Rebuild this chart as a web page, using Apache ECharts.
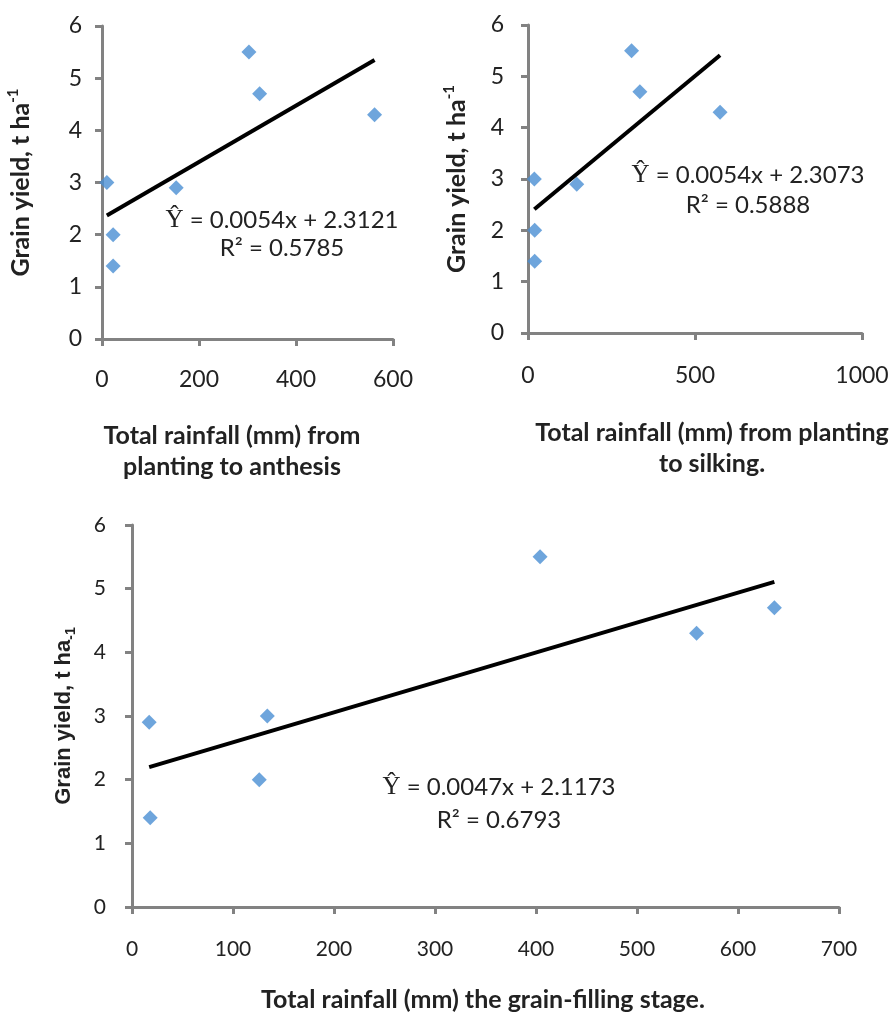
<!DOCTYPE html>
<html>
<head>
<meta charset="utf-8">
<title>Grain yield vs rainfall</title>
<script src="https://cdn.jsdelivr.net/npm/echarts@6/dist/echarts.min.js"></script>
<style>
  html, body { margin: 0; padding: 0; background: #ffffff; }
  #chart { width: 896px; height: 1013px; }
</style>
</head>
<body>
<div id="chart"></div>
<script>
// Rainfall (mm) and grain yield (t/ha) for each growth-stage window
const anthesisRain   = [10, 23, 23, 153, 303, 325, 562];
const anthesisYield  = [3.0, 2.0, 1.4, 2.9, 5.5, 4.7, 4.3];

const silkingRain    = [19, 20, 20, 146, 310, 335, 575];
const silkingYield   = [3.0, 2.0, 1.4, 2.9, 5.5, 4.7, 4.3];

const fillingRain    = [17, 18, 126, 134, 404, 559, 636];
const fillingYield   = [2.9, 1.4, 2.0, 3.0, 5.5, 4.3, 4.7];

// Linear fits: slope, intercept, R²
const fitSlope     = [0.0054, 0.0054, 0.0047];
const fitIntercept = [2.3121, 2.3073, 2.1173];
const fitR2        = ['0.5785', '0.5888', '0.6793'];

// Axis ranges
const xMax      = [600, 1000, 700];
const xInterval = [200, 500, 100];
const yMax = 6;

const xTitles = [
  'Total rainfall (mm) from\nplanting to anthesis',
  'Total rainfall (mm) from planting\nto silking.',
  'Total rainfall (mm) the grain-filling stage.'
];

const AXIS_GREY = '#828282';
const TEXT = '#222222';
const BLUE = '#4a8fd3';
const SANS = 'Lato, "Open Sans", sans-serif';

const rains  = [anthesisRain, silkingRain, fillingRain];
const yields = [anthesisYield, silkingYield, fillingYield];

const grids = [
  { left: 102, top: 26,  width: 291, height: 313 },
  { left: 528, top: 25,  width: 334, height: 308 },
  { left: 132, top: 525, width: 707, height: 382 }
];

const labelMarginX = [29, 31, 32];
const labelMarginY = [20, 24, 26];
const nameGapY     = [66, 56, 54];

function pairs(xs, ys) { return xs.map((x, i) => [x, ys[i]]); }

function fitLine(k) {
  const xs = rains[k];
  const lo = Math.min(...xs), hi = Math.max(...xs);
  return [lo, hi].map(x => [x, fitSlope[k] * x + fitIntercept[k]]);
}

const xAxes = grids.map((g, k) => ({
  type: 'value', gridIndex: k, min: 0, max: xMax[k], interval: xInterval[k],
  splitLine: { show: false },
  axisLine: { show: true, onZero: false, lineStyle: { color: AXIS_GREY, width: 3 } },
  axisTick: { show: true, inside: false, length: 7, lineStyle: { color: AXIS_GREY, width: 3 } },
  axisLabel: {
    color: TEXT, fontFamily: SANS, fontSize: k === 2 ? 21 : 23, margin: labelMarginX[k],
    formatter: v => String(v)
  }
}));

const yNameRich = {
  n: { fontFamily: SANS, fontWeight: 'bold', fontSize: 25, color: TEXT, lineHeight: 30 },
  sup: { fontFamily: SANS, fontWeight: 'bold', fontSize: 15, color: TEXT, lineHeight: 15, verticalAlign: 'top' },
  nb: { fontFamily: '"Liberation Sans", Arial, sans-serif', fontWeight: 'bold', fontSize: 22, color: TEXT, lineHeight: 28 },
  sub: { fontFamily: '"Liberation Sans", Arial, sans-serif', fontWeight: 'bold', fontSize: 14, color: TEXT, lineHeight: 14, verticalAlign: 'bottom' }
};

const yAxes = grids.map((g, k) => ({
  type: 'value', gridIndex: k, min: 0, max: yMax, interval: 1,
  name: k === 2 ? '{nb|Grain yield, t ha}{sub|-1}' : '{n|Grain yield, t ha}{sup|-1}',
  nameLocation: 'middle', nameGap: nameGapY[k], nameRotate: 90,
  nameTextStyle: { rich: yNameRich },
  splitLine: { show: false },
  axisLine: { show: true, lineStyle: { color: AXIS_GREY, width: 3 } },
  axisTick: { show: true, inside: false, length: 7, lineStyle: { color: AXIS_GREY, width: 3 } },
  axisLabel: { color: TEXT, fontFamily: SANS, fontSize: k === 2 ? 21 : 23, margin: labelMarginY[k] }
}));

const series = [];
for (let k = 0; k < 3; k++) {
  series.push({
    type: 'scatter', xAxisIndex: k, yAxisIndex: k,
    data: pairs(rains[k], yields[k]),
    symbol: 'diamond', symbolSize: 15,
    itemStyle: { color: BLUE }
  });
  series.push({
    type: 'line', xAxisIndex: k, yAxisIndex: k,
    data: fitLine(k),
    symbol: 'none', silent: true,
    lineStyle: { color: '#000000', width: 4 }
  });
}

// Equation labels and x-axis titles
const eqPos = [
  { x: 282, y1: 220, y2: 248 },
  { x: 748, y1: 175, y2: 205 },
  { x: 499, y1: 787, y2: 820 }
];
const eqRich = {
  hat: { fontFamily: '"Liberation Serif", "DejaVu Serif", serif', fontSize: 25, color: TEXT }
};

const graphics = [];
for (let k = 0; k < 3; k++) {
  const p = eqPos[k];
  graphics.push({
    type: 'text', x: p.x, y: p.y1,
    style: {
      text: '{hat|\u0176} = ' + fitSlope[k].toFixed(4) + 'x + ' + fitIntercept[k].toFixed(4),
      rich: eqRich, fontFamily: SANS, fontSize: 24, fill: TEXT,
      align: 'center', verticalAlign: 'middle'
    }
  });
  graphics.push({
    type: 'text', x: p.x, y: p.y2,
    style: {
      text: 'R\u00B2 = ' + fitR2[k], fontFamily: SANS, fontSize: 24, fill: TEXT,
      align: 'center', verticalAlign: 'middle'
    }
  });
}

const titlePos = [
  { x: 232, y: 451, size: 25 },
  { x: 712, y: 448, size: 25 },
  { x: 483, y: 1000, size: 25 }
];
titlePos.forEach((t, k) => {
  graphics.push({
    type: 'text', x: t.x, y: t.y,
    style: {
      text: xTitles[k], fontFamily: SANS, fontWeight: 'bold', fontSize: t.size,
      lineHeight: 31, fill: TEXT, align: 'center', verticalAlign: 'middle'
    }
  });
});

const chart = echarts.init(document.getElementById('chart'), null, { renderer: 'canvas' });
chart.setOption({
  animation: false,
  backgroundColor: '#ffffff',
  grid: grids,
  xAxis: xAxes,
  yAxis: yAxes,
  series: series,
  graphic: graphics
});
</script>
</body>
</html>
